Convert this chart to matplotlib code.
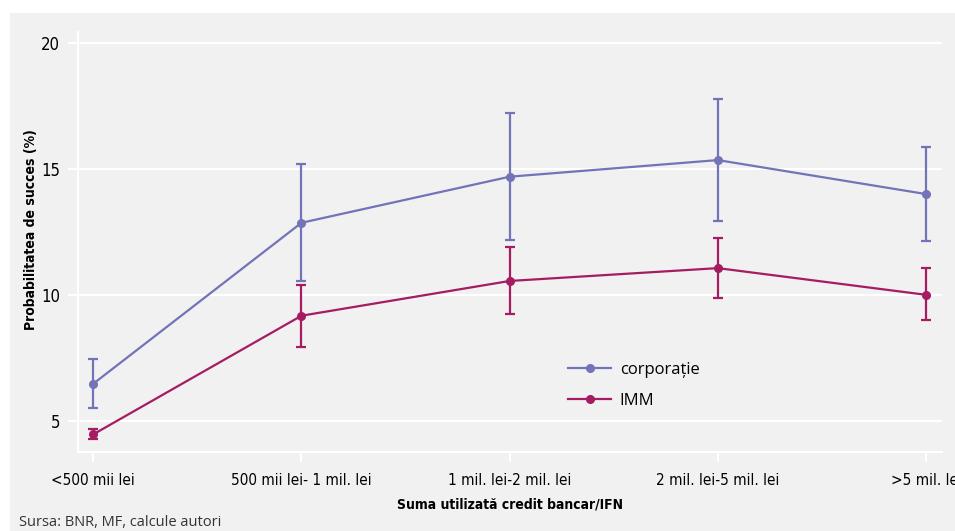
import matplotlib
matplotlib.use("Agg")
import matplotlib.pyplot as plt
from matplotlib.patches import Rectangle

categories = ["<500 mii lei", "500 mii lei- 1 mil. lei", "1 mil. lei-2 mil. lei",
              "2 mil. lei-5 mil. lei", ">5 mil. lei"]

corp = [6.49, 12.88, 14.71, 15.37, 14.02]
corp_lo = [5.52, 10.57, 12.19, 12.95, 12.14]
corp_hi = [7.46, 15.21, 17.25, 17.80, 15.90]

imm = [4.48, 9.19, 10.57, 11.08, 10.02]
imm_lo = [4.29, 7.94, 9.24, 9.88, 9.02]
imm_hi = [4.68, 10.40, 11.92, 12.29, 11.07]

yticks = [5, 10, 15, 20]

c_corp = "#7373b9"
c_imm = "#a51c63"
bg = "#f1f1f1"
narrow = ["DejaVu Sans"]
plain = ["Open Sans", "DejaVu Sans"]

fig = plt.figure(figsize=(9.55, 5.31), dpi=100, facecolor="white")
fig.patches.append(Rectangle((10 / 955, 0), 1, (531 - 13.3) / 531,
                             transform=fig.transFigure, facecolor=bg,
                             edgecolor="none", zorder=-10))

ax = fig.add_axes([0.082, 0.1493, 0.904, 0.7897])
ax.set_facecolor(bg)

x = list(range(len(categories)))

for vals, lo, hi, col, lab in [(corp, corp_lo, corp_hi, c_corp, "corporație"),
                               (imm, imm_lo, imm_hi, c_imm, "IMM")]:
    err = [[v - l for v, l in zip(vals, lo)], [h - v for v, h in zip(vals, hi)]]
    ax.errorbar(x, vals, yerr=err, fmt="none", ecolor=col, elinewidth=1.6,
                capsize=3.5, capthick=1.6, zorder=3)
    ax.plot(x, vals, color=col, lw=1.6, marker="o", ms=5.5, label=lab, zorder=4)

ax.set_xlim(-0.072, 4.075)
ax.set_ylim(3.79, 20.44)
ax.set_yticks(yticks)
ax.set_xticks(x)
ax.set_xticklabels(categories, family=narrow, stretch="condensed", fontsize=11)
ax.set_yticklabels([str(t) for t in yticks], family=narrow, stretch="condensed",
                   fontsize=12)

ax.grid(axis="y", color="white", lw=1.5, zorder=1)
ax.grid(axis="x", visible=False)
for s in ["top", "right"]:
    ax.spines[s].set_visible(False)
for s in ["left", "bottom"]:
    ax.spines[s].set_color("white")
    ax.spines[s].set_linewidth(1.5)
ax.tick_params(axis="both", colors="white", length=7, width=1.5, labelcolor="black")
ax.tick_params(axis="x", pad=8)
ax.tick_params(axis="y", pad=6)

ax.set_xlabel("Suma utilizată credit bancar/IFN", family=narrow, stretch="condensed",
              fontsize=10, fontweight="bold", labelpad=7)
ax.set_ylabel("Probabilitatea de succes (%)", family=narrow, stretch="condensed",
              fontsize=10, fontweight="bold")
ax.yaxis.set_label_coords(-0.047, 0.53)

ax.legend(loc="upper left", bbox_to_anchor=(0.55, 0.25), frameon=False,
          prop={"family": plain, "size": 12}, handlelength=2.6, labelspacing=0.9,
          handletextpad=0.5)

fig.text(19 / 955, 8.5 / 531, "Sursa: BNR, MF, calcule autori", family=plain,
         fontsize=10.5, color="#333333", va="center", ha="left")

fig.savefig("out.png", dpi=100, facecolor=fig.get_facecolor())
